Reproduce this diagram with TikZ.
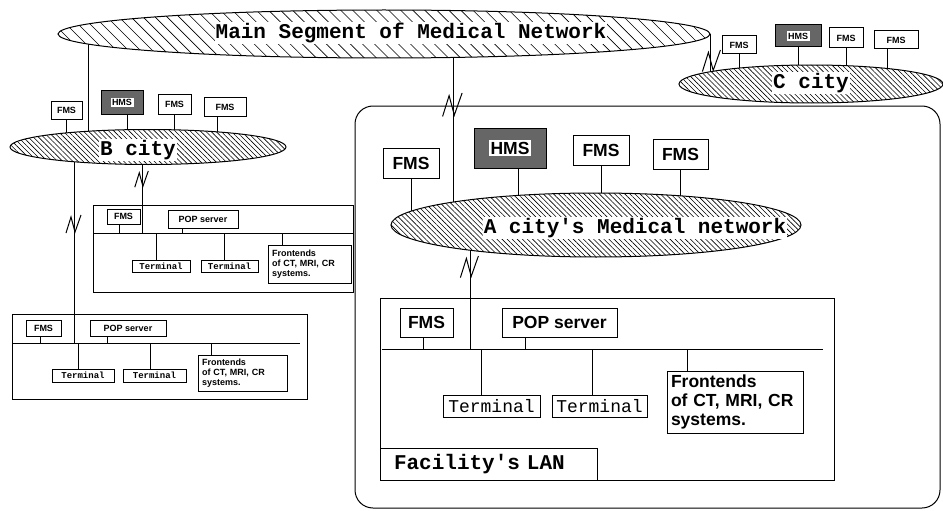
\documentclass[tikz,border=0pt]{standalone}
\usepackage{fontspec}
\setmainfont{Liberation Sans}
\setmonofont{Liberation Mono}
\usetikzlibrary{shapes.geometric,patterns.meta,backgrounds}
\setlength{\fboxsep}{1.5pt}
\tikzset{
    segment/.style = {
        ellipse,
        draw,
        inner sep=0pt,
        preaction={fill=white},
        pattern={Lines[angle=-45, distance=#1, line width=0.6pt]},
        },
    segment/.default = 3.6pt,
    seg label/.style = {
        fill = white,
        inner sep = 1pt,
        font = \fontsize{21}{24}\selectfont\ttfamily\bfseries,
        },
    box/.style = {
        draw,
        fill = white,
        inner sep = 0pt,
        },
    hms box/.style = {
        draw,
        fill = black!60,
        inner sep = 0pt,
        },
    lan/.style = {
        draw,
        inner sep = 0pt,
        },
    big sans/.style = {
        font = \fontsize{17.5}{19}\selectfont\bfseries,
        },
    small sans/.style = {
        font = \fontsize{9}{10}\selectfont\bfseries,
        },
    big mono/.style = {
        font = \fontsize{18}{20}\selectfont\ttfamily,
        },
    small mono/.style = {
        font = \fontsize{9}{10}\selectfont\ttfamily\bfseries,
        },
    front/.style = {
        align = left,
        inner xsep = 4pt,
        },
    link break/.pic = {
        \draw (-8,8) -- (-3,-8) -- (1,7) -- (7,-10);
        },
}

\begin{document}
\begin{tikzpicture}[x=1pt, y=-1pt, line width=1pt]
    \useasboundingbox (0,0) rectangle (943,511);

    % segments
    \node[segment=8.5pt, minimum width=652pt, minimum height=48pt] (main) at (384,34) {};
    \node[seg label] (mainlabel) at (411,33) {Main Segment of Medical Network};

    \node[segment, minimum width=276pt, minimum height=35pt] (bcity) at (148,147) {};
    \node[seg label] (blabel) at (138,150) {B city};

    \node[segment, minimum width=264pt, minimum height=38pt] (ccity) at (811,84) {};
    \node[seg label] (clabel) at (811,83) {C city};

    \node[draw, rounded corners=18pt, minimum width=585pt, minimum height=402pt] (aregion) at (647.5,307) {};
    \node[segment, minimum width=410pt, minimum height=64pt] (acity) at (596,225) {};
    \node[seg label] (alabel) at (635,228) {A city's Medical network};

    % B city servers
    \node[box, small sans, minimum width=31pt, minimum height=17pt] (bfms1) at (66.5,110.5) {FMS};
    \node[hms box, small sans, minimum width=42pt, minimum height=23pt] (bhms) at (122,102.5) {\colorbox{white}{HMS}};
    \node[box, small sans, minimum width=33pt, minimum height=19pt] (bfms2) at (174.5,104.5) {FMS};
    \node[box, small sans, minimum width=42pt, minimum height=18pt] (bfms3) at (225,107) {FMS};

    % C city servers
    \node[box, small sans, minimum width=34pt, minimum height=18pt] (cfms1) at (739,45) {FMS};
    \node[hms box, small sans, minimum width=46pt, minimum height=22pt] (chms) at (798,36) {\colorbox{white}{HMS}};
    \node[box, small sans, minimum width=34pt, minimum height=20pt] (cfms2) at (846,38) {FMS};
    \node[box, small sans, minimum width=44pt, minimum height=18pt] (cfms3) at (896,40) {FMS};

    % A city servers
    \node[box, big sans, minimum width=56pt, minimum height=30pt] (afms1) at (411,163) {FMS};
    \node[hms box, big sans, minimum width=72pt, minimum height=40pt] (ahms) at (510,148) {\setlength{\fboxsep}{2pt}\colorbox{white}{HMS}};
    \node[box, big sans, minimum width=56pt, minimum height=30pt] (afms2) at (601,150) {FMS};
    \node[box, big sans, minimum width=55pt, minimum height=30pt] (afms3) at (680.5,154) {FMS};

    % B city LANs
    \node[lan, minimum width=260pt, minimum height=87pt] (blan1) at (223,248.5) {};
    \coordinate (bbus1w) at (93,233);
    \coordinate (bbus1e) at (353,233);
    \node[box, small sans, minimum width=33pt, minimum height=15pt] (b1fms) at (123.5,216.5) {FMS};
    \node[box, small sans, minimum width=70pt, minimum height=18pt] (b1pop) at (203,219) {POP server};
    \node[box, small mono, minimum width=58pt, minimum height=12pt] (b1term1) at (161,266) {Terminal};
    \node[box, small mono, minimum width=57pt, minimum height=12pt] (b1term2) at (229.5,266) {Terminal};
    \node[box, small sans, front, text width=75pt, minimum height=38pt] (b1front) at (309.5,264) {Frontends\\of CT, MRI, CR\\systems.};

    \node[lan, minimum width=295pt, minimum height=85pt] (blan2) at (159.5,356.5) {};
    \coordinate (bbus2w) at (12,343);
    \coordinate (bbus2e) at (300,343);
    \node[box, small sans, minimum width=35pt, minimum height=16pt] (b2fms) at (43.5,328) {FMS};
    \node[box, small sans, minimum width=76pt, minimum height=16pt] (b2pop) at (128,328) {POP server};
    \node[box, small mono, minimum width=62pt, minimum height=13pt] (b2term1) at (83,375.5) {Terminal};
    \node[box, small mono, minimum width=63pt, minimum height=13pt] (b2term2) at (154.5,375.5) {Terminal};
    \node[box, small sans, front, text width=81pt, minimum height=36pt] (b2front) at (242.5,373) {Frontends\\of CT, MRI, CR\\systems.};

    % A city LAN
    \node[lan, minimum width=454pt, minimum height=182pt] (alan) at (607,389) {};
    \coordinate (abusw) at (382,349);
    \coordinate (abuse) at (823,349);
    \node[box, big sans, minimum width=53pt, minimum height=29pt] (afms4) at (426.5,322.5) {FMS};
    \node[box, big sans, minimum width=115pt, minimum height=29pt] (apop) at (559.5,322.5) {POP server};
    \node[box, big mono, minimum width=97pt, minimum height=22pt] (aterm1) at (491.5,406) {Terminal};
    \node[box, big mono, minimum width=95pt, minimum height=22pt] (aterm2) at (599.5,406) {Terminal};
    \node[box, big sans, front, text width=128pt, minimum height=62pt] (afront) at (735,402) {Frontends\\of CT, MRI, CR\\systems.};
    \node[box, seg label, align=left, text width=189pt, inner xsep=14pt, inner ysep=0pt, minimum height=32pt] (alanlabel) at (488.5,464) {Facility's LAN};

    % links between segments
    \coordinate (mainb) at (88,34);
    \coordinate (maina) at (453,34);
    \coordinate (bdown1) at (142,147);
    \coordinate (bdown2) at (74,147);
    \coordinate (adown) at (470,225);

    \begin{scope}[on background layer]
        \draw (mainb) -- (mainb |- bcity.center);
        \draw (maina) -- (maina |- acity.center);
        \draw (main.east) -- (main.east |- ccity.center);
        \draw (bdown1) -- (bdown1 |- bbus1w);
        \draw (bdown2) -- (bdown2 |- bbus2w);
        \draw (adown) -- (adown |- abusw);

        \draw (bbus1w) -- (bbus1e);
        \draw (bbus2w) -- (bbus2e);
        \draw (abusw) -- (abuse);

        \draw (bfms1.south) -- (bfms1.south |- bcity.center);
        \draw ([xshift=5pt]bhms.south) -- ([xshift=5pt]bhms.south |- bcity.center);
        \draw (bfms2.south) -- (bfms2.south |- bcity.center);
        \draw ([xshift=-8pt]bfms3.south) -- ([xshift=-8pt]bfms3.south |- bcity.center);

        \draw (cfms1.south) -- (cfms1.south |- ccity.center);
        \draw (chms.south) -- (chms.south |- ccity.center);
        \draw (cfms2.south) -- (cfms2.south |- ccity.center);
        \draw ([xshift=-9pt]cfms3.south) -- ([xshift=-9pt]cfms3.south |- ccity.center);

        \draw (afms1.south) -- (afms1.south |- acity.center);
        \draw ([xshift=8pt]ahms.south) -- ([xshift=8pt]ahms.south |- acity.center);
        \draw (afms2.south) -- (afms2.south |- acity.center);
        \draw (afms3.south) -- (afms3.south |- acity.center);

        \draw ([xshift=-4.5pt]b1fms.south) -- ([xshift=-4.5pt]b1fms.south |- bbus1w);
        \draw ([xshift=-21pt]b1pop.south) -- ([xshift=-21pt]b1pop.south |- bbus1w);
        \draw ([xshift=-5pt]b1term1.north) -- ([xshift=-5pt]b1term1.north |- bbus1w);
        \draw ([xshift=-5.5pt]b1term2.north) -- ([xshift=-5.5pt]b1term2.north |- bbus1w);
        \draw ([xshift=-27.5pt]b1front.north) -- ([xshift=-27.5pt]b1front.north |- bbus1w);

        \draw ([xshift=-3.5pt]b2fms.south) -- ([xshift=-3.5pt]b2fms.south |- bbus2w);
        \draw ([xshift=-21pt]b2pop.south) -- ([xshift=-21pt]b2pop.south |- bbus2w);
        \draw ([xshift=-5pt]b2term1.north) -- ([xshift=-5pt]b2term1.north |- bbus2w);
        \draw ([xshift=-4.5pt]b2term2.north) -- ([xshift=-4.5pt]b2term2.north |- bbus2w);
        \draw ([xshift=-31.5pt]b2front.north) -- ([xshift=-31.5pt]b2front.north |- bbus2w);

        \draw ([xshift=-3.5pt]afms4.south) -- ([xshift=-3.5pt]afms4.south |- abusw);
        \draw ([xshift=-34.5pt]apop.south) -- ([xshift=-34.5pt]apop.south |- abusw);
        \draw ([xshift=-10.5pt]aterm1.north) -- ([xshift=-10.5pt]aterm1.north |- abusw);
        \draw ([xshift=-7.5pt]aterm2.north) -- ([xshift=-7.5pt]aterm2.north |- abusw);
        \draw ([xshift=-48pt]afront.north) -- ([xshift=-48pt]afront.north |- abusw);
    \end{scope}

    % breaks on the links
    \pic[scale=1.3] at (453,106) {link break};
    \pic[scale=1.2] at (712,62) {link break};
    \pic[scale=0.9] at (142,180) {link break};
    \pic at (74,225) {link break};
    \pic[scale=1.2] at (470,268) {link break};
\end{tikzpicture}
\end{document}
